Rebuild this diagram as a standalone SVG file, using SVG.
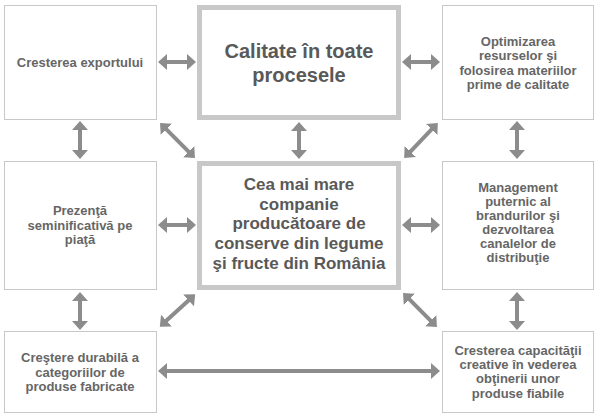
<svg xmlns="http://www.w3.org/2000/svg" width="601" height="418" viewBox="0 0 601 418">
<defs>
<marker id="ah" markerUnits="userSpaceOnUse" markerWidth="10" markerHeight="16" refX="1" refY="8" orient="auto-start-reverse">
<path d="M0,0 L9,8 L0,16 z" fill="#8c8c8c"/>
</marker>
<style>
.box{fill:#fff;stroke:#c8c8c8;stroke-width:1}
.main{fill:#fff;stroke:#c8c8c8;stroke-width:5}
.t{font-family:"Liberation Sans",Arial,sans-serif;font-weight:bold;font-size:13px;fill:#666;text-anchor:middle}
.tb{font-family:"Liberation Sans",Arial,sans-serif;font-weight:bold;fill:#595959;text-anchor:middle}
.c line{stroke:#8c8c8c;stroke-width:4;marker-start:url(#ah);marker-end:url(#ah)}
</style>
</defs>
<rect width="601" height="418" fill="#fff"/>
<g id="n-export">
<rect class="box" x="4.5" y="5.5" width="152" height="114"/>
<text class="t" x="80" y="67">Cresterea exportului</text>
</g>
<g id="n-calitate">
<rect class="main" x="199.5" y="7.5" width="199" height="110"/>
<text class="tb" font-size="20" x="299" y="58">Calitate în toate</text>
<text class="tb" font-size="20" x="299" y="82">procesele</text>
</g>
<g id="n-optimizare">
<rect class="box" x="442.5" y="5.5" width="151" height="114"/>
<text class="t" x="518" y="46">Optimizarea</text>
<text class="t" x="518" y="60">resurselor şi</text>
<text class="t" x="518" y="75">folosirea materiilor</text>
<text class="t" x="518" y="89">prime de calitate</text>
</g>
<g id="n-prezenta">
<rect class="box" x="4.5" y="161.5" width="152" height="128"/>
<text class="t" x="80" y="215">Prezenţă</text>
<text class="t" x="80" y="230">seminificativă pe</text>
<text class="t" x="80" y="244">piaţă</text>
</g>
<g id="n-companie">
<rect class="main" x="199.5" y="163.5" width="199" height="124"/>
<text class="tb" font-size="17" x="299" y="190">Cea mai mare</text>
<text class="tb" font-size="17" x="299" y="210">companie</text>
<text class="tb" font-size="17" x="299" y="229">producătoare de</text>
<text class="tb" font-size="17" x="299" y="249">conserve din legume</text>
<text class="tb" font-size="17" x="299" y="269">şi fructe din România</text>
</g>
<g id="n-management">
<rect class="box" x="442.5" y="161.5" width="151" height="128"/>
<text class="t" x="518" y="192">Management</text>
<text class="t" x="518" y="206">puternic al</text>
<text class="t" x="518" y="220">brandurilor şi</text>
<text class="t" x="518" y="234">dezvoltarea</text>
<text class="t" x="518" y="248">canalelor de</text>
<text class="t" x="518" y="262">distribuţie</text>
</g>
<g id="n-crestere">
<rect class="box" x="4.5" y="331.5" width="152" height="81"/>
<text class="t" x="80" y="362">Creştere durabilă a</text>
<text class="t" x="80" y="377">categoriilor de</text>
<text class="t" x="80" y="391">produse fabricate</text>
</g>
<g id="n-capacitate">
<rect class="box" x="442.5" y="331.5" width="151" height="81"/>
<text class="t" x="518" y="355">Cresterea capacităţii</text>
<text class="t" x="518" y="369">creative în vederea</text>
<text class="t" x="518" y="383">obţinerii unor</text>
<text class="t" x="518" y="398">produse fiabile</text>
</g>
<g id="connectors" class="c">
<line x1="166" y1="62" x2="188" y2="62"/>
<line x1="410" y1="62" x2="432" y2="62"/>
<line x1="166" y1="225" x2="188" y2="225"/>
<line x1="410" y1="225" x2="432" y2="225"/>
<line x1="166" y1="371" x2="432" y2="371"/>
<line x1="80" y1="129" x2="80" y2="151"/>
<line x1="80" y1="300" x2="80" y2="322"/>
<line x1="299" y1="130" x2="299" y2="151"/>
<line x1="517" y1="129" x2="517" y2="151"/>
<line x1="517" y1="300" x2="517" y2="322"/>
<line x1="165.7" y1="128.7" x2="189.3" y2="152.3"/>
<line x1="409.7" y1="152.3" x2="432.3" y2="128.7"/>
<line x1="165.7" y1="321.3" x2="189.3" y2="299.7"/>
<line x1="408.7" y1="298.7" x2="431.3" y2="321.3"/>
</g>
</svg>
